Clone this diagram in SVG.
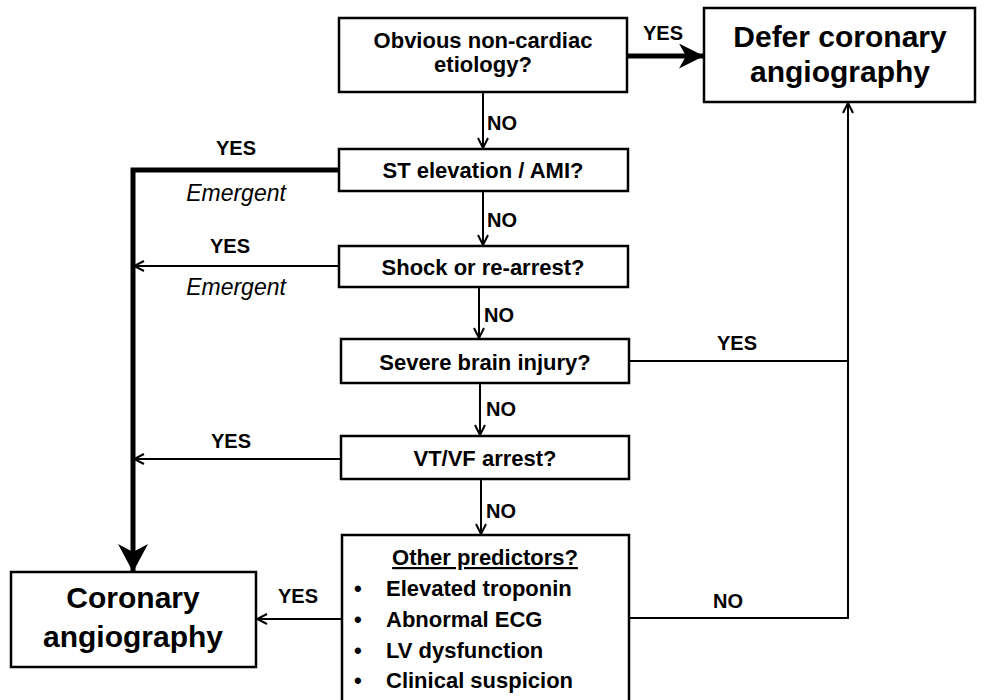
<svg xmlns="http://www.w3.org/2000/svg" width="984" height="700" viewBox="0 0 984 700">
<style>
.box{fill:#fff;stroke:#000;stroke-width:2.5}
.t{font-family:"Liberation Sans",Arial,sans-serif;font-weight:bold;font-size:22px;fill:#000;text-anchor:middle}
.big{font-size:30px}
.lbl{font-family:"Liberation Sans",Arial,sans-serif;font-weight:bold;font-size:20px;fill:#000;text-anchor:middle}
.no{text-anchor:start}
.em{font-family:"Liberation Sans",Arial,sans-serif;font-style:italic;font-size:23px;fill:#000;text-anchor:middle}
.ln{fill:none;stroke:#000;stroke-width:2}
.thick{fill:none;stroke:#000;stroke-width:5}
.bul{font-family:"Liberation Sans",Arial,sans-serif;font-weight:bold;font-size:22px;fill:#000}
</style>
<defs>
<marker id="ah" viewBox="0 0 12 12" refX="11" refY="6" markerWidth="12" markerHeight="12" markerUnits="userSpaceOnUse" orient="auto">
<path d="M1,1 L11,6 L1,11" fill="none" stroke="#000" stroke-width="2"/>
</marker>
<marker id="ahb" viewBox="0 0 25 25" refX="24" refY="12.5" markerWidth="25" markerHeight="25" markerUnits="userSpaceOnUse" orient="auto">
<path d="M0,0 L25,12.5 L0,25 L7,12.5 Z" fill="#000"/>
</marker>
<marker id="ahb2" viewBox="0 0 28 30" refX="27" refY="15" markerWidth="28" markerHeight="30" markerUnits="userSpaceOnUse" orient="auto">
<path d="M0,0 L28,15 L0,30 L8,15 Z" fill="#000"/>
</marker>
</defs>
<g id="connectors">
<line class="thick" x1="627" y1="56" x2="703" y2="56" marker-end="url(#ahb)"/>
<line class="ln" x1="483" y1="92" x2="483" y2="148" marker-end="url(#ah)"/>
<polyline class="thick" points="339,170 133,170 133,571" marker-end="url(#ahb2)"/>
<line class="ln" x1="483" y1="191" x2="483" y2="245" marker-end="url(#ah)"/>
<line class="ln" x1="339" y1="266" x2="134" y2="266" marker-end="url(#ah)"/>
<line class="ln" x1="479" y1="287" x2="479" y2="338" marker-end="url(#ah)"/>
<polyline class="ln" points="629,361 848,361"/>
<polyline class="ln" points="629,618 848,618 848,103" marker-end="url(#ah)"/>
<line class="ln" x1="480" y1="383" x2="480" y2="435" marker-end="url(#ah)"/>
<line class="ln" x1="341" y1="459" x2="134" y2="459" marker-end="url(#ah)"/>
<line class="ln" x1="481" y1="479" x2="481" y2="534" marker-end="url(#ah)"/>
<line class="ln" x1="341" y1="619" x2="257" y2="619" marker-end="url(#ah)"/>
<text class="lbl" x="663" y="40">YES</text>
<text class="lbl no" x="487" y="130">NO</text>
<text class="lbl" x="236" y="155">YES</text>
<text class="em" x="236" y="201">Emergent</text>
<text class="lbl no" x="487" y="227">NO</text>
<text class="lbl" x="230" y="253">YES</text>
<text class="em" x="236" y="295">Emergent</text>
<text class="lbl no" x="484" y="322">NO</text>
<text class="lbl" x="737" y="350">YES</text>
<text class="lbl no" x="486" y="416">NO</text>
<text class="lbl" x="231" y="448">YES</text>
<text class="lbl no" x="486" y="518">NO</text>
<text class="lbl" x="728" y="608">NO</text>
<text class="lbl" x="298" y="603">YES</text>
</g>
<g id="n1">
<rect class="box" x="339" y="18" width="288" height="74"/>
<text class="t" x="483" y="48">Obvious non-cardiac</text>
<text class="t" x="483" y="72">etiology?</text>
</g>
<g id="defer">
<rect class="box" x="704" y="8" width="271" height="94"/>
<text class="t big" x="840" y="47">Defer coronary</text>
<text class="t big" x="840" y="82">angiography</text>
</g>
<g id="n2">
<rect class="box" x="339" y="149" width="289" height="42"/>
<text class="t" x="483" y="178">ST elevation / AMI?</text>
</g>
<g id="n3">
<rect class="box" x="339" y="246" width="289" height="41"/>
<text class="t" x="483" y="275">Shock or re-arrest?</text>
</g>
<g id="n4">
<rect class="box" x="341" y="339" width="288" height="44"/>
<text class="t" x="485" y="370">Severe brain injury?</text>
</g>
<g id="n5">
<rect class="box" x="341" y="436" width="288" height="43"/>
<text class="t" x="485" y="466">VT/VF arrest?</text>
</g>
<g id="n6">
<rect class="box" x="342" y="535" width="287" height="170"/>
<text class="t" x="485" y="565" text-decoration="underline">Other predictors?</text>
<text class="bul" x="354" y="596">•</text>
<text class="bul" x="386" y="596">Elevated troponin</text>
<text class="bul" x="354" y="627">•</text>
<text class="bul" x="386" y="627">Abnormal ECG</text>
<text class="bul" x="354" y="658">•</text>
<text class="bul" x="386" y="658">LV dysfunction</text>
<text class="bul" x="354" y="688">•</text>
<text class="bul" x="386" y="688">Clinical suspicion</text>
</g>
<g id="coronary">
<rect class="box" x="11" y="572" width="245" height="95"/>
<text class="t big" x="133" y="608">Coronary</text>
<text class="t big" x="133" y="647">angiography</text>
</g>
</svg>
